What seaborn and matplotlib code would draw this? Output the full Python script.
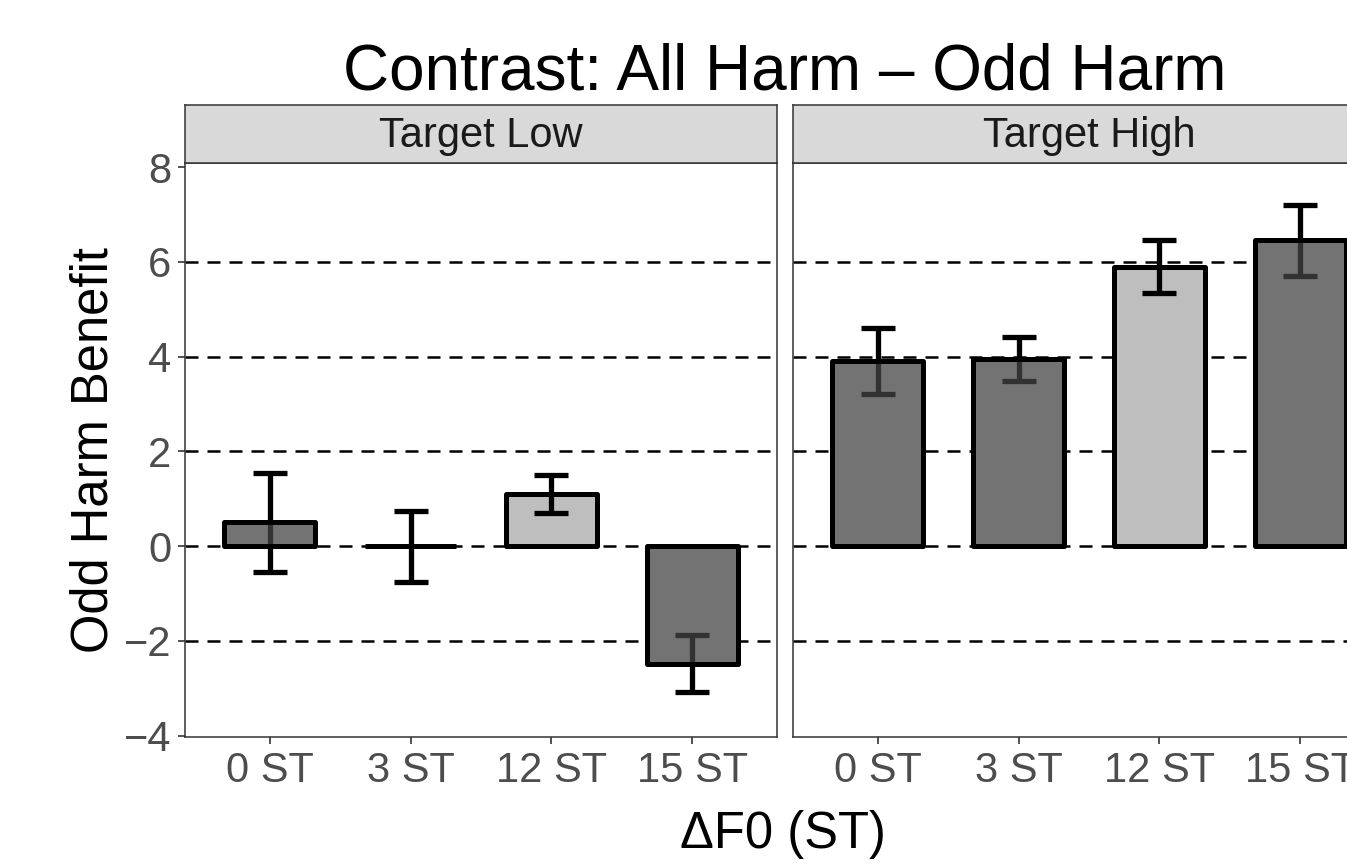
import numpy as np
import pandas as pd
import matplotlib
matplotlib.use("Agg")
import matplotlib.pyplot as plt
import seaborn as sns

# ---- data ----
categories = ["0 ST", "3 ST", "12 ST", "15 ST"]
panels = ["Target Low", "Target High"]
low_values = [0.5, 0.0, 1.1, -2.48]
low_errors = [1.05, 0.75, 0.40, 0.60]
high_values = [3.9, 3.95, 5.9, 6.45]
high_errors = [0.70, 0.47, 0.55, 0.75]
shade_group = ["dark", "dark", "light", "dark"]
y_ticks = [-4, -2, 0, 2, 4, 6, 8]
grid_values = [-2, 0, 2, 4, 6]

title = "Contrast: All Harm \u2013 Odd Harm"
x_label = "\u0394F0 (ST)"
y_label = "Odd Harm Benefit"

sns.set_theme(style="white")
plt.rcParams["font.family"] = ["Liberation Sans", "DejaVu Sans"]

W, H = 1347, 864
fig = plt.figure(figsize=(W / 100, H / 100), dpi=100)
fig.patch.set_facecolor("white")

shade_rgba = {"dark": (68 / 255, 68 / 255, 68 / 255, 0.75),
              "light": (0, 0, 0, 0.255)}

panel_left_px = [185, 793]
panel_w_px = 592
panel_top_px, panel_bot_px = 163, 737
strip_top_px = 105
edge_gray = "#333333"

data_sets = [(low_values, low_errors), (high_values, high_errors)]

for i, (panel, (vals, errs)) in enumerate(zip(panels, data_sets)):
    l = panel_left_px[i] / W
    b = 1 - panel_bot_px / H
    ax = fig.add_axes([l, b, panel_w_px / W, (panel_bot_px - panel_top_px) / H])
    df = pd.DataFrame({"cond": categories, "value": vals, "shade": shade_group})

    # dashed reference lines
    for gv in grid_values:
        ax.axhline(gv, color="black", lw=1.8, dashes=(5.2, 3.6), zorder=1)

    # white underlay bars (hide grid lines behind the bars)
    sns.barplot(data=df, x="cond", y="value", order=categories, color="white",
                width=0.65, linewidth=0, errorbar=None, ax=ax, zorder=1.5,
                saturation=1)
    n_under = len(ax.patches)

    # error bars
    ax.errorbar(np.arange(len(categories)), vals, yerr=errs, fmt="none",
                ecolor="black", elinewidth=3.8, capsize=12.0, capthick=3.8,
                zorder=2)

    # main bars
    sns.barplot(data=df, x="cond", y="value", order=categories,
                hue="shade", hue_order=["dark", "light"],
                palette={"dark": "#737373", "light": "#BEBEBE"}, legend=False,
                width=0.65, edgecolor="black", linewidth=3.6, errorbar=None,
                ax=ax, zorder=3, saturation=1, dodge=False)
    for p in ax.patches[n_under:]:
        xc = p.get_x() + p.get_width() / 2
        idx = int(round(xc))
        if 0 <= idx < len(categories):
            p.set_facecolor(shade_rgba[shade_group[idx]])
        p.set_joinstyle("round")

    ax.set_xlim(-0.6, len(categories) - 0.4)
    ax.set_ylim(-4.03, 8.085)
    ax.set_xlabel("")
    ax.set_ylabel("")
    ax.set_yticks(y_ticks)
    ax.set_xticks(np.arange(len(categories)))
    ax.set_xticklabels(categories)
    ax.tick_params(axis="x", length=5, width=1.2, color=edge_gray, pad=5,
                   labelsize=30, labelcolor="#4D4D4D", bottom=True)
    if i == 0:
        ax.tick_params(axis="y", length=5, width=1.2, color=edge_gray, pad=5,
                       labelsize=30, labelcolor="#4D4D4D", left=True)
    else:
        ax.tick_params(axis="y", left=False, labelleft=False)
    for s in ax.spines.values():
        s.set_color(edge_gray)
        s.set_linewidth(1.1)
        s.set_visible(True)
    ax.set_facecolor("white")

    # strip
    sax = fig.add_axes([l, 1 - panel_top_px / H, panel_w_px / W,
                        (panel_top_px - strip_top_px) / H])
    sax.set_facecolor("#D9D9D9")
    sax.set_xticks([])
    sax.set_yticks([])
    for s in sax.spines.values():
        s.set_color(edge_gray)
        s.set_linewidth(1.1)
        s.set_visible(True)
    sax.text(0.5, 0.47, panel, ha="center", va="center", fontsize=30,
             color="#1A1A1A", transform=sax.transAxes)

fig.text(785 / W, 1 - 90 / H, title, ha="center", va="baseline",
         fontsize=46, color="black")
fig.text(783 / W, 1 - 848 / H, x_label, ha="center", va="baseline",
         fontsize=36.5, color="black")
fig.text(94 / W, 1 - 450 / H, y_label, ha="center", va="center",
         rotation=90, fontsize=36.5, color="black")

fig.savefig("out.png", dpi=100, facecolor="white")
